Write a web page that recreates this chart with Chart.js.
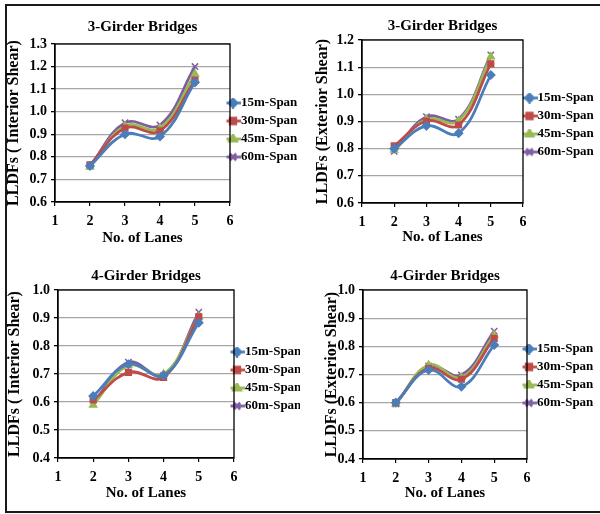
<!DOCTYPE html>
<html>
<head>
<meta charset="utf-8">
<title>LLDFs vs. No. of Lanes</title>
<script src="https://cdn.jsdelivr.net/npm/chart.js@4.4.1/dist/chart.umd.min.js"></script>
<style>
  body { margin: 0; background: #fff; }
  #frame {
    position: absolute;
    left: 5px;
    top: 4px;
    width: 600px;
    height: 505px;
    border: 2px solid #1a1a1a;
  }
  canvas { position: absolute; }
</style>
</head>
<body>
<div id="frame"></div>
<canvas id="g3Interior" width="296" height="248" style="left:4px;top:8px"></canvas>
<canvas id="g3Exterior" width="296" height="248" style="left:304px;top:8px"></canvas>
<canvas id="g4Interior" width="296" height="246" style="left:4px;top:260px"></canvas>
<canvas id="g4Exterior" width="296" height="246" style="left:304px;top:260px"></canvas>

<script>
// Number of loaded lanes (x values) and the span lengths (one series each)
const lanes = [2, 3, 4, 5];
const spans = ["15m-Span", "30m-Span", "45m-Span", "60m-Span"];

// LLDF values, one row per span: 15m, 30m, 45m, 60m
const g3InteriorLLDF = [
  [0.76, 0.90, 0.89, 1.13],
  [0.765, 0.927, 0.915, 1.14],
  [0.755, 0.937, 0.927, 1.167],
  [0.76, 0.951, 0.941, 1.20],
];
const g3ExteriorLLDF = [
  [0.80, 0.884, 0.857, 1.071],
  [0.81, 0.902, 0.887, 1.112],
  [0.795, 0.908, 0.902, 1.138],
  [0.79, 0.918, 0.908, 1.145],
];
const g4InteriorLLDF = [
  [0.621, 0.735, 0.695, 0.883],
  [0.607, 0.706, 0.688, 0.904],
  [0.589, 0.730, 0.700, 0.905],
  [0.594, 0.742, 0.695, 0.921],
];
const g4ExteriorLLDF = [
  [0.60, 0.716, 0.657, 0.805],
  [0.60, 0.722, 0.683, 0.828],
  [0.595, 0.734, 0.690, 0.840],
  [0.595, 0.730, 0.698, 0.854],
];

// axis ranges
const laneRange = [1, 6];
const g3InteriorRange = [0.6, 1.3];
const g3ExteriorRange = [0.6, 1.2];
const g4Range = [0.4, 1.0];

// Excel 2007 style series colours and markers
const colors = ["#4a7ebb", "#be4b48", "#98b954", "#7d5fa0"];
const markers = ["rectRot", "rect", "triangle", "crossRot"];
const serif = "'Liberation Serif', 'Times New Roman', serif";

// black box round the plot area
const plotFrame = {
  id: "plotFrame",
  beforeDatasetsDraw(chart) {
    const { ctx, chartArea: a } = chart;
    ctx.save();
    ctx.strokeStyle = "#000";
    ctx.lineWidth = 1.3;
    ctx.strokeRect(a.left, a.top, a.right - a.left, a.bottom - a.top);
    ctx.restore();
  },
};

// shift the legend block a few pixels after layout
// (only the left edge moves sideways so the text keeps its room on the right)
const legendNudge = {
  id: "legendNudge",
  afterLayout(chart, args, opts) {
    const lg = chart.legend;
    if (!lg) return;
    lg.left += opts.dx || 0;
    lg.top += opts.dy || 0;
    lg.bottom += opts.dy || 0;
  },
};

// small line + marker picture for each legend entry
function legendSwatch(i) {
  const c = document.createElement("canvas");
  c.width = 16;
  c.height = 11;
  const ctx = c.getContext("2d");
  ctx.strokeStyle = colors[i];
  ctx.fillStyle = colors[i];
  ctx.lineWidth = 2.75;
  ctx.beginPath();
  ctx.moveTo(0, 5.5);
  ctx.lineTo(16, 5.5);
  ctx.stroke();
  Chart.helpers.drawPoint(ctx, {
    pointStyle: markers[i],
    radius: i === 3 ? 4.5 : 4,
    rotation: 0,
    borderWidth: 1.5,
  }, 8, 5.5);
  return c;
}
const swatches = spans.map((s, i) => legendSwatch(i));

function makeChart(p) {
  const datasets = spans.map((name, i) => ({
    label: name,
    data: lanes.map((lane, j) => ({ x: lane, y: p.values[i][j] })),
    borderColor: colors[i],
    backgroundColor: colors[i],
    borderWidth: 2.75,
    tension: 0.4,
    fill: false,
    pointStyle: markers[i],
    pointRadius: i === 3 ? 4.5 : 4,
    pointBorderWidth: 1.5,
  }));

  new Chart(document.getElementById(p.id), {
    type: "line",
    data: { datasets },
    plugins: [plotFrame, legendNudge],
    options: {
      responsive: false,
      animation: false,
      layout: { padding: 0 },
      plugins: {
        title: {
          display: true,
          text: p.title,
          fullSize: false,
          color: "#000",
          font: { family: serif, size: 15, weight: "bold" },
          padding: p.titlePad,
        },
        legend: {
          position: "right",
          maxWidth: p.legendWidth,
          labels: {
            usePointStyle: true,
            pointStyleWidth: 3,
            padding: 5,
            color: "#000",
            font: { family: serif, size: 13, weight: "bold" },
            generateLabels(chart) {
              const items = Chart.defaults.plugins.legend.labels.generateLabels(chart);
              items.forEach((it, i) => { it.pointStyle = swatches[i]; });
              return items;
            },
          },
        },
        tooltip: { enabled: false },
        legendNudge: { dx: p.legendDx, dy: p.legendDy },
      },
      scales: {
        x: {
          type: "linear",
          min: laneRange[0],
          max: laneRange[1],
          afterFit(scale) { scale.height = p.xHeight; },
          ticks: {
            stepSize: 1,
            padding: 7,
            color: "#000",
            font: { family: serif, size: 14, weight: "bold" },
          },
          grid: { drawOnChartArea: false, tickLength: 4, color: "#000", lineWidth: 1.2 },
          border: { color: "#000", width: 1.3 },
          title: {
            display: true,
            text: "No. of Lanes",
            color: "#000",
            font: { family: serif, size: 15, weight: "bold" },
            padding: { top: 0, bottom: p.xTitlePad },
          },
        },
        y: {
          min: p.range[0],
          max: p.range[1],
          afterFit(scale) { scale.width = p.yWidth; },
          ticks: {
            stepSize: 0.1,
            padding: 4,
            color: "#000",
            font: { family: serif, size: 14, weight: "bold" },
            callback: (v) => v.toFixed(1),
          },
          grid: { color: "#a6a6a6", lineWidth: 1.3, tickColor: "#000", tickLength: 4 },
          border: { color: "#000", width: 1.3 },
          title: {
            display: true,
            text: p.yTitle,
            color: "#000",
            font: { family: serif, size: 16, weight: "bold" },
            padding: { top: p.yTitlePad, bottom: 0 },
          },
        },
      },
    },
  });
}

makeChart({
  id: "g3Interior", title: "3-Girder Bridges", yTitle: "LLDFs ( Interior Shear)",
  values: g3InteriorLLDF, range: g3InteriorRange,
  yWidth: 51, xHeight: 54, legendWidth: 70, legendDx: -3.5, legendDy: -2,
  titlePad: { top: 10.5, bottom: 7.5 }, xTitlePad: 9, yTitlePad: 0.4,
});
makeChart({
  id: "g3Exterior", title: "3-Girder Bridges", yTitle: "LLDFs (Exterior Shear)",
  values: g3ExteriorLLDF, range: g3ExteriorRange,
  yWidth: 58, xHeight: 53, legendWidth: 77, legendDx: 0, legendDy: -7,
  titlePad: { top: 9, bottom: 5 }, xTitlePad: 9.5, yTitlePad: 8.9,
});
makeChart({
  id: "g4Interior", title: "4-Girder Bridges", yTitle: "LLDFs ( Interior Shear)",
  values: g4InteriorLLDF, range: g4Range,
  yWidth: 54, xHeight: 48, legendWidth: 66, legendDx: -3.5, legendDy: -4,
  titlePad: { top: 7, bottom: 5 }, xTitlePad: 4, yTitlePad: 0.9,
});
makeChart({
  id: "g4Exterior", title: "4-Girder Bridges", yTitle: "LLDFs (Exterior Shear)",
  values: g4ExteriorLLDF, range: g4Range,
  yWidth: 59, xHeight: 47, legendWidth: 73, legendDx: -4.5, legendDy: -7,
  titlePad: { top: 7, bottom: 5 }, xTitlePad: 4, yTitlePad: 18.4,
});
</script>
</body>
</html>
